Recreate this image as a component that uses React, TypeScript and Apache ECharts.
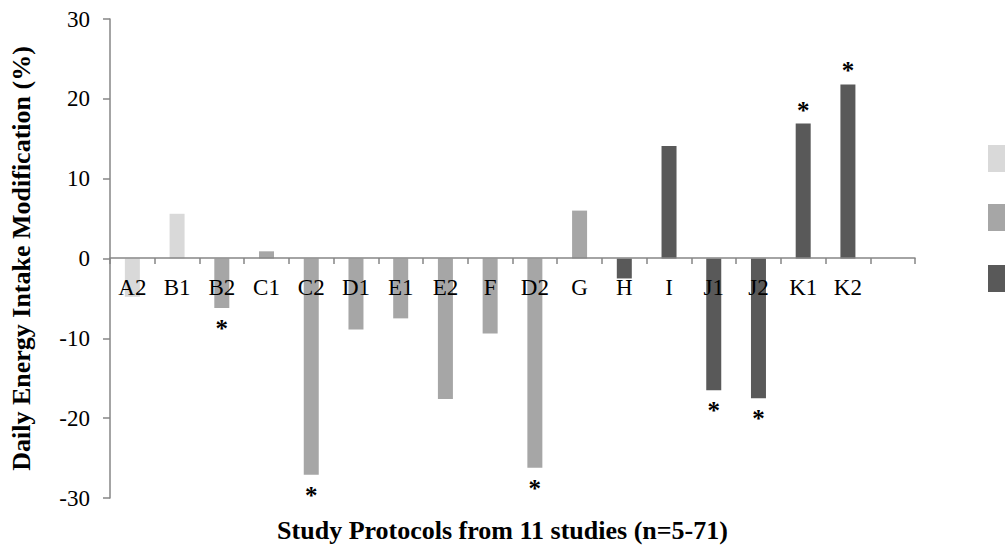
import React, { useEffect, useRef } from "react";
import * as echarts from "echarts";

const categories = ["A2", "B1", "B2", "C1", "C2", "D1", "E1", "E2", "F", "D2", "G", "H", "I", "J1", "J2", "K1", "K2", ""];
const values = [-4.8, 5.6, -6.2, 0.9, -27.1, -8.9, -7.5, -17.6, -9.4, -26.2, 6.0, -2.5, 14.1, -16.5, -17.5, 16.9, 21.8, null];
const groups = [0, 0, 1, 1, 1, 1, 1, 1, 1, 1, 1, 2, 2, 2, 2, 2, 2, 2];
const starred = [false, false, true, false, true, false, false, false, false, true, false, false, false, true, true, true, true, false];
const groupColors = ["#d9d9d9", "#a6a6a6", "#595959"];
const yTicks = { min: -30, max: 30, interval: 10 };

const FONT = "Liberation Serif";

export default function App() {
  const ref = useRef<HTMLDivElement>(null);
  useEffect(() => {
    if (!ref.current) return;
    const chart = echarts.init(ref.current, undefined, { renderer: "svg" });
    const data = values.map((v, i) => ({
      value: v,
      itemStyle: { color: groupColors[groups[i]] },
      label: starred[i]
        ? {
            show: true,
            position: (v as number) < 0 ? "bottom" : "top",
            formatter: "*",
            distance: (v as number) < 0 ? 8 : 1,
            fontSize: 25,
            fontWeight: "bold",
            fontFamily: FONT,
            color: "#000",
          }
        : { show: false },
    }));
    chart.setOption({
      animation: false,
      grid: { left: 109, right: 90, top: 19, bottom: 58, containLabel: false },
      xAxis: {
        type: "category",
        data: categories,
        z: 5,
        offset: -240,
        axisLine: { onZero: false, lineStyle: { color: "#868686", width: 1.5 } },
        axisTick: { show: true, length: 6, lineStyle: { color: "#868686", width: 1.5 } },
        axisLabel: { color: "#000", fontSize: 23, fontFamily: FONT, margin: 18 },
      },
      yAxis: {
        type: "value",
        min: yTicks.min,
        max: yTicks.max,
        interval: yTicks.interval,
        splitLine: { show: false },
        axisLine: { show: true, lineStyle: { color: "#868686", width: 1.5 } },
        axisTick: { show: true, length: 7, lineStyle: { color: "#868686", width: 1.5 } },
        axisLabel: { color: "#000", fontSize: 23, fontFamily: FONT, margin: 20 },
        name: "Daily Energy Intake Modification (%)",
        nameLocation: "middle",
        nameGap: 76,
        nameTextStyle: { color: "#000", fontSize: 26, fontWeight: "bold", fontFamily: FONT },
      },
      series: [
        {
          type: "bar",
          data,
          barWidth: 15,
        },
      ],
      graphic: [
        {
          type: "text",
          left: "center",
          top: 517,
          style: {
            text: "Study Protocols from 11 studies (n=5-71)",
            fill: "#000",
            fontSize: 26,
            fontWeight: "bold",
            fontFamily: FONT,
          },
        },
        { type: "rect", shape: { x: 988, y: 145, width: 30, height: 27 }, style: { fill: groupColors[0] } },
        { type: "rect", shape: { x: 988, y: 204, width: 30, height: 27 }, style: { fill: groupColors[1] } },
        { type: "rect", shape: { x: 988, y: 265, width: 30, height: 27 }, style: { fill: groupColors[2] } },
      ],
    });
    return () => chart.dispose();
  }, []);
  return <div ref={ref} style={{ width: 1005, height: 556, position: "absolute", left: 0, top: 0 }} />;
}
